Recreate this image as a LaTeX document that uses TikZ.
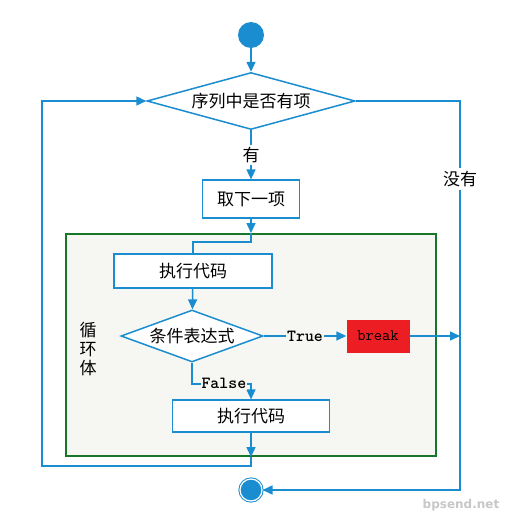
\documentclass[tikz,border=0pt]{standalone}
\usepackage{fontspec}
\newfontfamily\cjk{Noto Sans CJK SC}
\newfontfamily\markfont{DejaVu Sans}
\newfontfamily\tfbold{lmmonolt10-bold}[Extension=.otf]
\usetikzlibrary{calc, positioning, shapes.geometric, arrows.meta}
\usepackage{xcolor}
\definecolor{flowblue}{RGB}{26,140,208}
\definecolor{loopgreen}{RGB}{22,118,42}
\definecolor{loopfill}{RGB}{246,246,243}
\definecolor{breakred}{RGB}{236,30,36}

\begin{document}
\begin{tikzpicture}[x=1pt, y=-1pt, >={Triangle[length=10pt, width=9pt]},
  every node/.style={font=\cjk\fontsize{17}{20}\selectfont}]
\tikzstyle{flow}=[draw=flowblue, line width=1.5pt]
\tikzstyle{dot}=[circle, fill=flowblue, inner sep=0, minimum size=26pt]
\tikzstyle{test}=[diamond, draw=flowblue, fill=white, line width=1.5pt, inner sep=0]
\tikzstyle{step box}=[rectangle, draw=flowblue, fill=white, line width=1.2pt]
\tikzstyle{tf}=[font=\tfbold\fontsize{17}{18}\selectfont, inner sep=1pt]

\useasboundingbox (0,0) rectangle (507,517);

% loop body
\node[rectangle, draw=loopgreen, fill=loopfill, line width=2pt, minimum width=370pt, minimum height=222pt] (body) at (251,345) {};
\node[align=center, font=\cjk\fontsize{17}{19}\selectfont] (bodylabel) at (88,349) {循\\环\\体};

\node[dot] (start) at (251,35) {};
\node[test, minimum width=208pt, minimum height=57pt, aspect=3.6] (hasitem) at (251,101) {序列中是否有项};
\node[step box, minimum width=97pt, minimum height=38pt] (next) at (251,199) {取下一项};
\node[step box, minimum width=158pt, minimum height=34pt] (exec1) at (193,271) {执行代码};
\node[test, minimum width=142pt, minimum height=52pt, aspect=2.7] (cond) at (192,336) {条件表达式};
\node[rectangle, fill=breakred, minimum width=63pt, minimum height=33pt, font=\ttfamily\fontsize{16}{18}\selectfont] (brk) at (378,336) {break};
\node[step box, minimum width=157pt, minimum height=32pt] (exec2) at (251,416) {执行代码};
\node[dot, draw=flowblue, double=white, double distance=1.2pt, line width=1pt, minimum size=22pt] (end) at (251,490) {};

\coordinate (rt) at (460,490);
\coordinate (lft) at (42,466);

\draw[flow,->] (start) -- (hasitem);
\draw[flow,->] (hasitem) -- node[fill=white, inner sep=2pt] {有} (next);
\draw[flow,->] (next) -- (next |- body.north);
\draw[flow] (next |- body.north) -- ++(0,9) -| (exec1);
\draw[flow,->] (exec1) -- (cond);
\draw[flow,->] (cond) -- node[tf, fill=loopfill] {True} (brk);
\draw[flow,->] (brk) -- (brk -| rt);
\draw[flow,->] (cond.south) -- ++(0,21) -| node[tf, fill=loopfill, pos=0.27] {False} (exec2);
\draw[flow,->] (exec2) -- (exec2 |- body.south);
\draw[flow,->] (exec2 |- body.south) |- (lft) |- (hasitem);
\draw[flow,->] (hasitem) -| node[pos=0.6, fill=white] {没有} (rt) -- (end);

\node[font=\markfont\bfseries\fontsize{12}{14}\selectfont, text=black!22] (mark) at (461,505) {bpsend.net};
\end{tikzpicture}
\end{document}
